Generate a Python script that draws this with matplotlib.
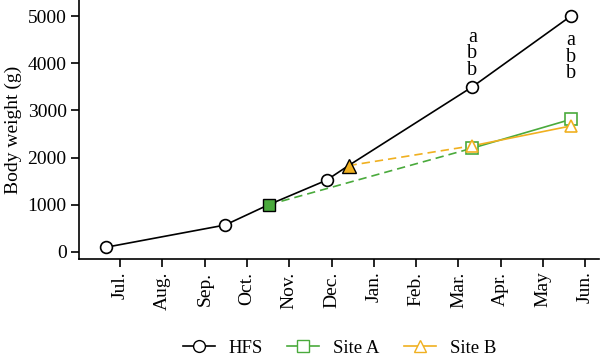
import matplotlib
matplotlib.use("Agg")
import matplotlib.pyplot as plt
from matplotlib.lines import Line2D

months = ["Jul.", "Aug.", "Sep.", "Oct.", "Nov.", "Dec.", "Jan.", "Feb.", "Mar.", "Apr.", "May", "Jun."]
# x positions in month units (Jul. = 0)
hfs_x = [-0.33, 2.48, 3.51, 4.88, 5.40, 8.33, 10.66]
hfs_y = [100, 570, 1000, 1520, 1830, 3500, 5000]
hfs_err = [0, 0, 0, 0, 0, 0, 120]

siteA_x = [3.51, 8.33, 10.66]
siteA_y = [1000, 2200, 2810]
siteB_x = [5.40, 8.33, 10.66]
siteB_y = [1830, 2250, 2670]

letters_mar = ["a", "b", "b"]
letters_jun = ["a", "b", "b"]

green = "#4aaa3c"
orange = "#f0b020"

plt.rcParams['font.family'] = ['Liberation Serif', 'DejaVu Serif']
fig = plt.figure(figsize=(6, 3.57), dpi=100)
ax = fig.add_axes([0.132, 0.2745, 0.866, 0.7255])

# Site A: dashed segment then solid
ax.plot(siteA_x[:2], siteA_y[:2], ls=(0, (5, 3)), color=green, lw=1.2, zorder=2)
ax.plot(siteA_x[1:], siteA_y[1:], ls='-', color=green, lw=1.2, zorder=2)
ax.plot(siteA_x[1:], siteA_y[1:], ls='none', marker='s', ms=8, mfc='white', mec=green, mew=1.2, zorder=4)
# Site B
ax.plot(siteB_x[:2], siteB_y[:2], ls=(0, (5, 3)), color=orange, lw=1.2, zorder=2)
ax.plot(siteB_x[1:], siteB_y[1:], ls='-', color=orange, lw=1.2, zorder=2)
ax.plot(siteB_x[1:], siteB_y[1:], ls='none', marker='^', ms=9, mfc='white', mec=orange, mew=1.2, zorder=4)

# HFS
ax.errorbar(hfs_x, hfs_y, yerr=hfs_err, color='black', lw=1.2, elinewidth=1, capsize=0, zorder=3)
circ_idx = [0, 1, 3, 5, 6]
ax.plot([hfs_x[i] for i in circ_idx], [hfs_y[i] for i in circ_idx], ls='none', marker='o', ms=8.5,
        mfc='white', mec='black', mew=1.2, zorder=5)
ax.plot([hfs_x[2]], [hfs_y[2]], ls='none', marker='s', ms=8, mfc=green, mec='black', mew=1.0, zorder=5)
ax.plot([hfs_x[4]], [hfs_y[4]], ls='none', marker='^', ms=9.5, mfc=orange, mec='black', mew=1.0, zorder=5)

# significance letters (stacked)
ax.text(hfs_x[5], 4200, "\n".join(letters_mar), ha='center', va='center', fontsize=14.5,
        linespacing=0.82, multialignment='center')
ax.text(hfs_x[6], 4130, "\n".join(letters_jun), ha='center', va='center', fontsize=14.5,
        linespacing=0.82, multialignment='center')

ax.set_xlim(-0.97, 11.32)
ax.set_ylim(-150, 5340)
ax.set_xticks(range(len(months)))
ax.set_xticklabels(months, rotation=90, fontsize=14)
ax.set_yticks([0, 1000, 2000, 3000, 4000, 5000])
ax.tick_params(axis='both', labelsize=14, width=1.2, length=6, direction='out', pad=3)
ax.set_ylabel("Body weight (g)", fontsize=14, labelpad=4)
for s in ['top', 'right']:
    ax.spines[s].set_visible(False)
for s in ['left', 'bottom']:
    ax.spines[s].set_linewidth(1.2)

handles = [
    Line2D([], [], color='black', lw=1.2, marker='o', ms=8.5, mfc='white', mec='black'),
    Line2D([], [], color=green, lw=1.2, marker='s', ms=8, mfc='white', mec=green),
    Line2D([], [], color=orange, lw=1.2, marker='^', ms=9, mfc='white', mec=orange),
]
fig.legend(handles, ["HFS", "Site A", "Site B"], loc='center', bbox_to_anchor=(0.566, 0.025),
           ncol=3, frameon=False, fontsize=13.5, handlelength=1.7, handletextpad=0.75,
           columnspacing=1.3, borderpad=0, borderaxespad=0)

fig.savefig("out.png", dpi=100)
